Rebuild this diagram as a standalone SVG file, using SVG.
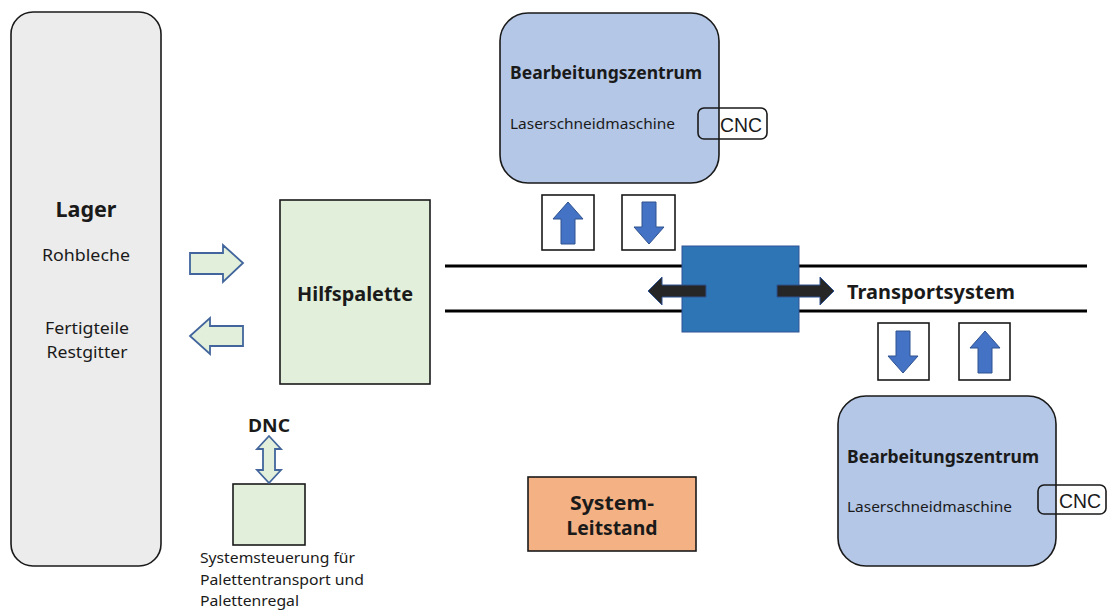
<svg xmlns="http://www.w3.org/2000/svg" width="1107" height="610" viewBox="0 0 1107 610">
  <defs>
    <style>
      text { font-family: "Noto Sans", "Open Sans", "Liberation Sans", sans-serif; fill: #1a1a1a; }
      .b { font-weight: bold; }
      .frame { stroke: #1a1a1a; stroke-width: 1.6; }
      .green { fill: #e2efda; }
      .machine { fill: #b4c7e7; stroke: #1a1a1a; stroke-width: 1.6; }
      .cnc { fill: none; stroke: #1a1a1a; stroke-width: 1.6; }
      .cnctext { font-family: "Liberation Sans", Arial, sans-serif; font-size: 20px; }
      .garrow { fill: #e2efda; stroke: #41659c; stroke-width: 1.8; stroke-linejoin: miter; }
      .barrow { fill: #4472c4; stroke: #2f528f; stroke-width: 1; }
      .karrow { fill: #262626; stroke: #2f528f; stroke-width: 1; }
      .sq { fill: #ffffff; stroke: #1a1a1a; stroke-width: 1.6; }
      .rail { stroke: #000; stroke-width: 3; }
    </style>
    <!-- block arrow shapes centred on the origin -->
    <path id="up" d="M0,-21 L15,-4 L7,-4 L7,21 L-7,21 L-7,-4 L-15,-4 Z"/>
    <path id="down" d="M0,21 L15,4 L7,4 L7,-21 L-7,-21 L-7,4 L-15,4 Z"/>
  </defs>

  <g id="lager">
    <rect x="11" y="12" width="150" height="554" rx="22" fill="#ececec" class="frame"/>
    <text x="86" y="217" text-anchor="middle" font-size="22" class="b" textLength="61" lengthAdjust="spacingAndGlyphs">Lager</text>
    <text x="86" y="261" text-anchor="middle" font-size="17" textLength="88" lengthAdjust="spacingAndGlyphs">Rohbleche</text>
    <text x="87" y="334" text-anchor="middle" font-size="17" textLength="84" lengthAdjust="spacingAndGlyphs">Fertigteile</text>
    <text x="87" y="358" text-anchor="middle" font-size="17" textLength="81" lengthAdjust="spacingAndGlyphs">Restgitter</text>
  </g>

  <g id="hilfspalette">
    <rect x="280" y="200" width="150" height="184" class="frame green"/>
    <text x="355" y="301" text-anchor="middle" font-size="20" class="b" textLength="116" lengthAdjust="spacingAndGlyphs">Hilfspalette</text>
  </g>

  <g id="machine-top">
    <rect x="500" y="13" width="219" height="170" rx="28" class="machine"/>
    <text x="510" y="79" font-size="17.5" class="b" textLength="192" lengthAdjust="spacingAndGlyphs">Bearbeitungszentrum</text>
    <text x="510" y="129" font-size="15" textLength="165" lengthAdjust="spacingAndGlyphs">Laserschneidmaschine</text>
    <rect x="698" y="108" width="69" height="31" rx="6" class="cnc"/>
    <text x="720" y="132" class="cnctext" textLength="42" lengthAdjust="spacingAndGlyphs">CNC</text>
  </g>

  <g id="machine-bottom">
    <rect x="838" y="396" width="218" height="170" rx="28" class="machine"/>
    <text x="847" y="463" font-size="17.5" class="b" textLength="192" lengthAdjust="spacingAndGlyphs">Bearbeitungszentrum</text>
    <text x="847" y="512" font-size="15" textLength="165" lengthAdjust="spacingAndGlyphs">Laserschneidmaschine</text>
    <rect x="1038" y="485" width="68" height="29" rx="6" class="cnc"/>
    <text x="1059" y="508" class="cnctext" textLength="42" lengthAdjust="spacingAndGlyphs">CNC</text>
  </g>

  <g id="transportsystem">
    <line x1="445" y1="266" x2="1087" y2="266" class="rail"/>
    <line x1="445" y1="311" x2="1087" y2="311" class="rail"/>
    <rect x="682" y="246" width="117" height="86" fill="#2e75b6" stroke="#2f5597" stroke-width="1"/>
    <text x="847" y="299" font-size="20" class="b" textLength="168" lengthAdjust="spacingAndGlyphs">Transportsystem</text>
  </g>

  <g id="systemsteuerung">
    <rect x="233" y="484" width="72" height="61" class="frame green"/>
    <text x="269" y="432" text-anchor="middle" font-size="17.5" class="b" textLength="42" lengthAdjust="spacingAndGlyphs">DNC</text>
    <text x="200" y="563" font-size="15" textLength="155" lengthAdjust="spacingAndGlyphs">Systemsteuerung für</text>
    <text x="200" y="585" font-size="15" textLength="164" lengthAdjust="spacingAndGlyphs">Palettentransport und</text>
    <text x="200" y="606" font-size="15" textLength="99" lengthAdjust="spacingAndGlyphs">Palettenregal</text>
  </g>

  <g id="leitstand">
    <rect x="528" y="477" width="168" height="74" fill="#f4b183" class="frame"/>
    <text x="612" y="510" text-anchor="middle" font-size="20" class="b" textLength="84" lengthAdjust="spacingAndGlyphs">System-</text>
    <text x="612" y="535" text-anchor="middle" font-size="20" class="b" textLength="91" lengthAdjust="spacingAndGlyphs">Leitstand</text>
  </g>

  <g id="connectors">
    <!-- material flow between Lager and Hilfspalette -->
    <path d="M190,253 L223,253 L223,245 L243,263 L223,282 L223,274 L190,274 Z" class="garrow"/>
    <path d="M243,326 L210,326 L210,318 L190,336 L210,354 L210,346 L243,346 Z" class="garrow"/>
    <!-- DNC link -->
    <path d="M269,436 L281,449 L275,449 L275,470 L281,470 L269,483 L257,470 L263,470 L263,449 L257,449 Z" class="garrow" stroke-width="1.6"/>
    <!-- load/unload to upper machine -->
    <rect x="542" y="195" width="52" height="55" class="sq"/>
    <use href="#up" x="568" y="223" class="barrow"/>
    <rect x="622" y="195" width="53" height="55" class="sq"/>
    <use href="#down" x="649" y="223" class="barrow"/>
    <!-- load/unload to lower machine -->
    <rect x="878" y="323" width="51" height="57" class="sq"/>
    <use href="#down" x="903" y="352" class="barrow"/>
    <rect x="959" y="323" width="51" height="57" class="sq"/>
    <use href="#up" x="985" y="352" class="barrow"/>
    <!-- travel direction of the carriage -->
    <path d="M706,285 L662,285 L662,277 L648,291 L662,305 L662,297 L706,297 Z" class="karrow"/>
    <path d="M777,285 L820,285 L820,277 L834,291 L820,305 L820,297 L777,297 Z" class="karrow"/>
  </g>
</svg>
